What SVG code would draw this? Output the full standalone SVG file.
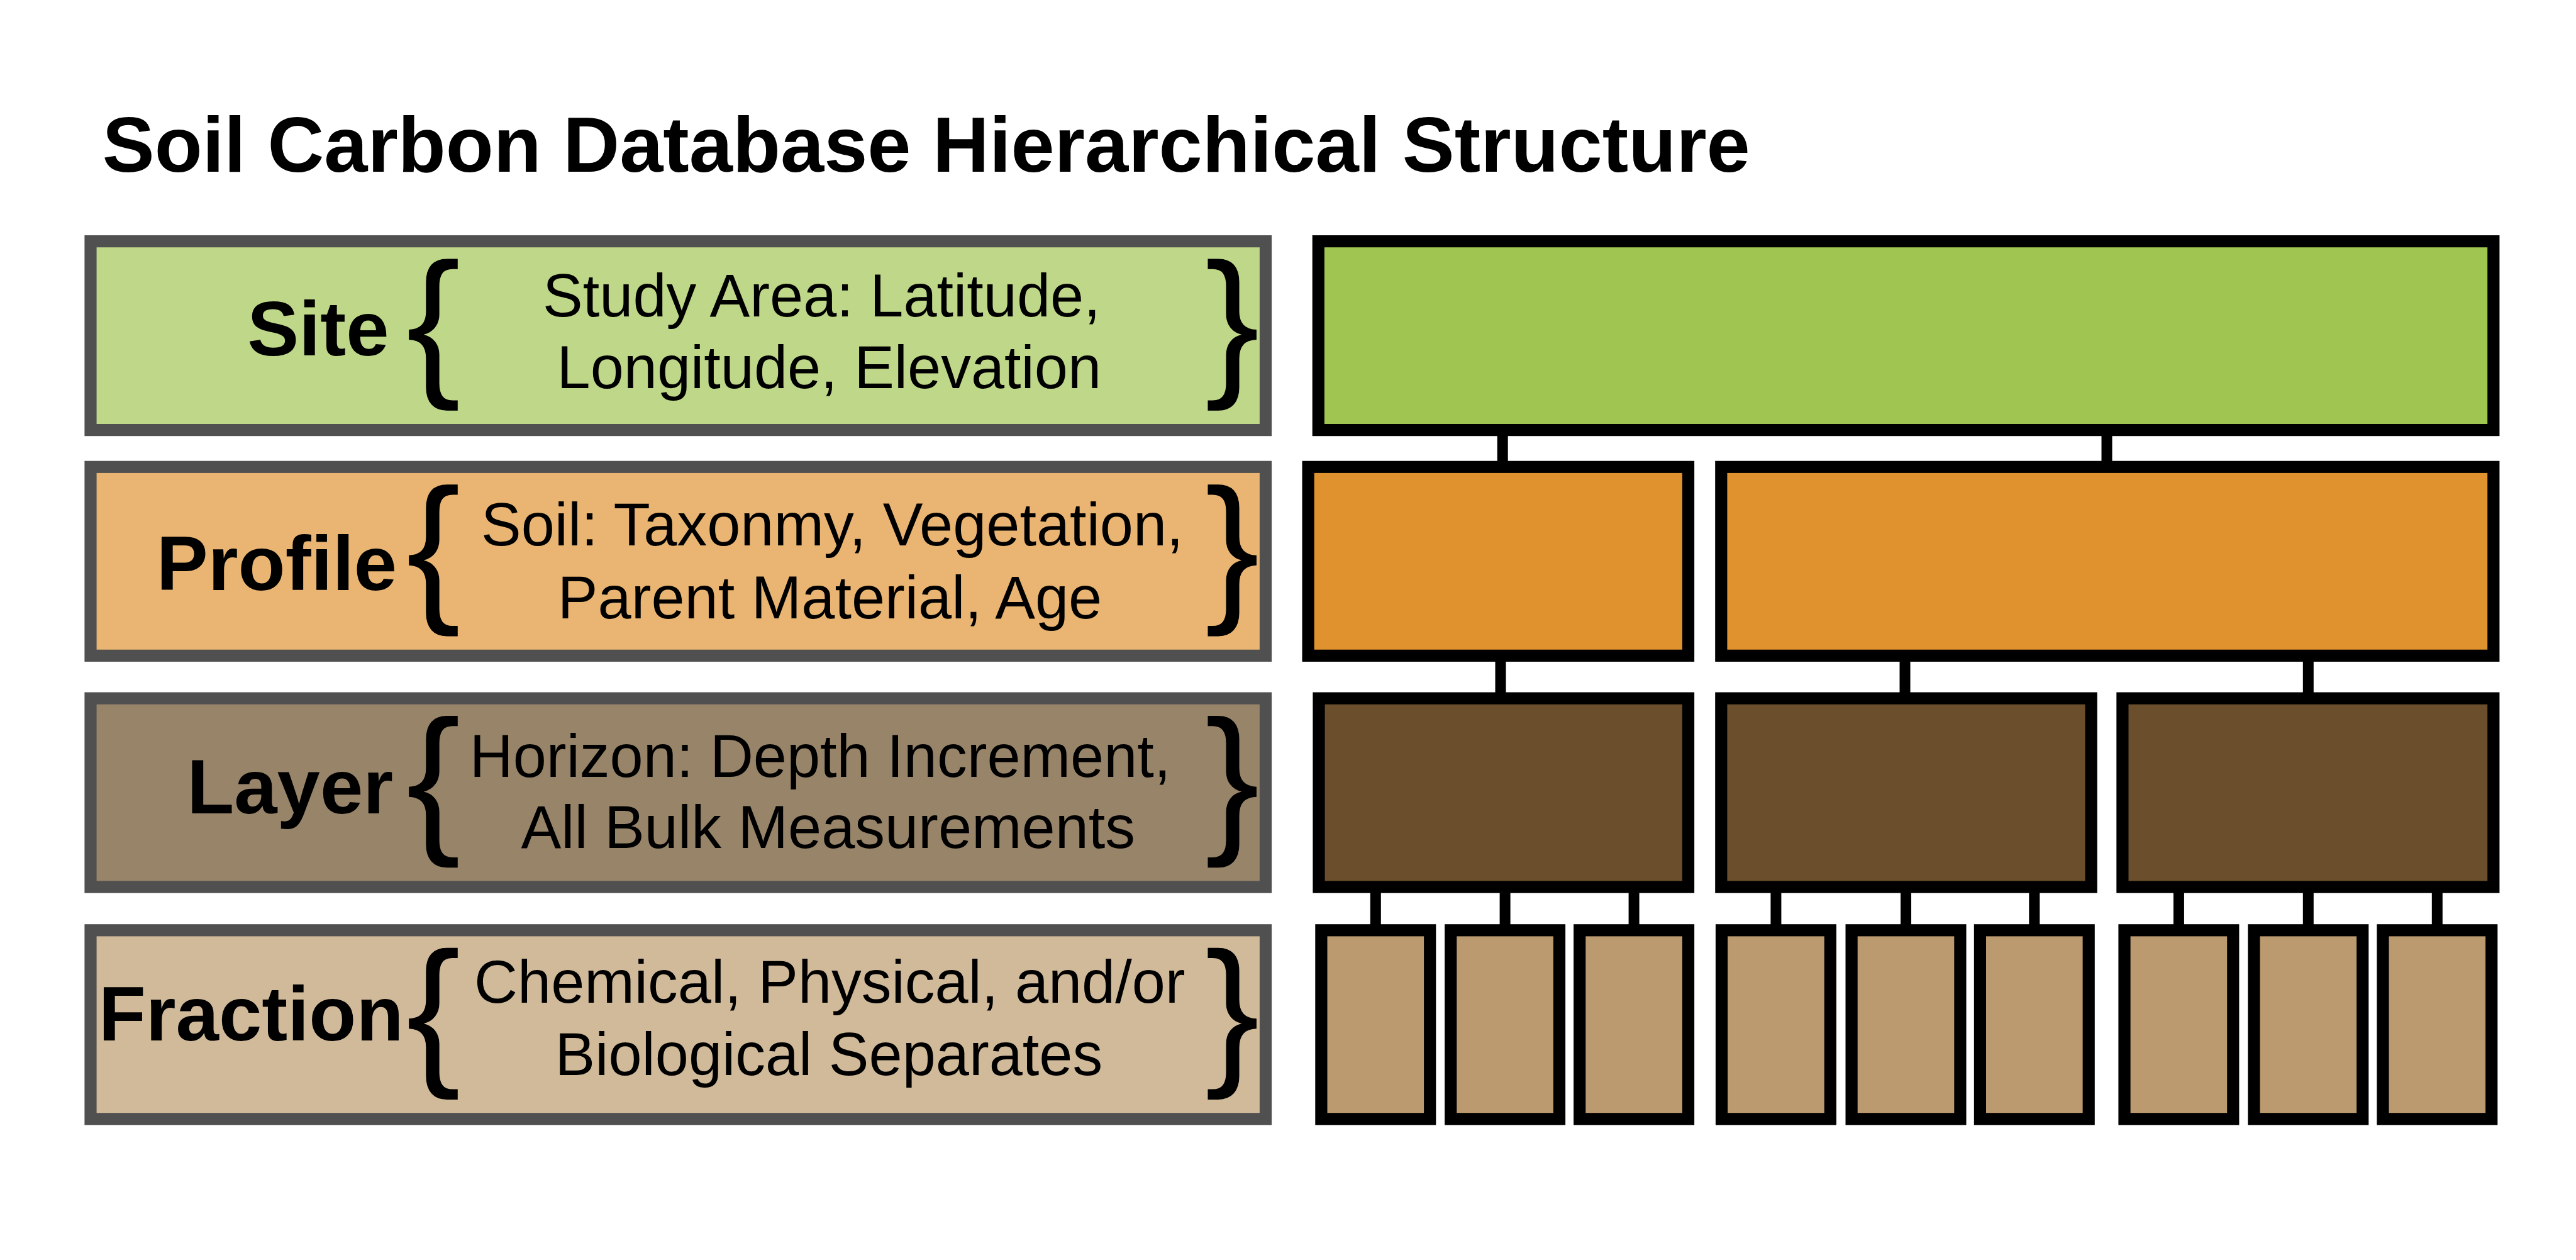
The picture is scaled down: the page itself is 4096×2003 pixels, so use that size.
<svg xmlns="http://www.w3.org/2000/svg" width="4096" height="2003" viewBox="0 0 4096 2003">
<style>
.lbox{stroke:#505050;stroke-width:19.2}
.nbox{stroke:#000;stroke-width:19.2}
.title{font-family:"Liberation Sans",Arial,sans-serif;font-weight:bold;font-size:124.4px;fill:#000}
.lab{font-family:"Liberation Sans",Arial,sans-serif;font-weight:bold;font-size:122.9px;fill:#000}
.desc{font-family:"Liberation Sans",Arial,sans-serif;font-size:95.5px;fill:#000;text-anchor:middle}
.br{font-family:"Liberation Sans",Arial,sans-serif;font-size:258.8px;fill:#000}
.conn{stroke:#000;stroke-width:17;fill:none}
.site{fill:#a0c550}.prof{fill:#e0922f}.layr{fill:#6b4e2c}.frac{fill:#bb9a6f}
</style>
<rect width="4096" height="2003" fill="#fff"/>
<text class="title" x="162.8" y="272.6">Soil Carbon Database Hierarchical Structure</text>

<g id="legend-site">
<rect class="lbox" x="144" y="383.6" width="1868.5" height="300" fill="#bfd788"/>
<text class="lab" x="393.2" y="564.5">Site</text>
<text class="br" x="645.9" y="599">{</text>
<text class="br" x="1916.2" y="599">}</text>
<text class="desc" x="1306.4" y="503">Study Area: Latitude,</text>
<text class="desc" x="1318.3" y="616.7">Longitude, Elevation</text>
</g>
<g id="legend-profile">
<rect class="lbox" x="144" y="742.3" width="1868.5" height="300" fill="#eab572"/>
<text class="lab" x="248.8" y="937.7">Profile</text>
<text class="br" x="645.9" y="957.7">{</text>
<text class="br" x="1916.2" y="957.7">}</text>
<text class="desc" x="1323.3" y="867.3">Soil: Taxonmy, Vegetation,</text>
<text class="desc" x="1319.5" y="982.5">Parent Material, Age</text>
</g>
<g id="legend-layer">
<rect class="lbox" x="144" y="1110.1" width="1868.5" height="300" fill="#978469"/>
<text class="lab" x="297.2" y="1293.3">Layer</text>
<text class="br" x="645.9" y="1325.6">{</text>
<text class="br" x="1916.2" y="1325.6">}</text>
<text class="desc" x="1304.1" y="1234.9">Horizon: Depth Increment,</text>
<text class="desc" x="1316.8" y="1347.8">All Bulk Measurements</text>
</g>
<g id="legend-fraction">
<rect class="lbox" x="144" y="1478.8" width="1868.5" height="300" fill="#d1ba9a"/>
<text class="lab" x="156.7" y="1654.3">Fraction</text>
<text class="br" x="645.9" y="1694.2">{</text>
<text class="br" x="1916.2" y="1694.2">}</text>
<text class="desc" x="1319.4" y="1593.6">Chemical, Physical, and/or</text>
<text class="desc" x="1317.9" y="1708.8">Biological Separates</text>
</g>

<g id="connectors">
<line class="conn" x1="2389.2" y1="683.9" x2="2389.2" y2="742.3"/>
<line class="conn" x1="3350" y1="683.9" x2="3350" y2="742.3"/>
<line class="conn" x1="2386" y1="1042.3" x2="2386" y2="1110.1"/>
<line class="conn" x1="3029" y1="1042.3" x2="3029" y2="1110.1"/>
<line class="conn" x1="3670.3" y1="1042.3" x2="3670.3" y2="1110.1"/>
<line class="conn" x1="2187.3" y1="1410.1" x2="2187.3" y2="1478.8"/>
<line class="conn" x1="2393.1" y1="1410.1" x2="2393.1" y2="1478.8"/>
<line class="conn" x1="2598.1" y1="1410.1" x2="2598.1" y2="1478.8"/>
<line class="conn" x1="2823.9" y1="1410.1" x2="2823.9" y2="1478.8"/>
<line class="conn" x1="3030.5" y1="1410.1" x2="3030.5" y2="1478.8"/>
<line class="conn" x1="3234.8" y1="1410.1" x2="3234.8" y2="1478.8"/>
<line class="conn" x1="3464.4" y1="1410.1" x2="3464.4" y2="1478.8"/>
<line class="conn" x1="3670.3" y1="1410.1" x2="3670.3" y2="1478.8"/>
<line class="conn" x1="3875.3" y1="1410.1" x2="3875.3" y2="1478.8"/>
</g>

<g id="site"><rect class="nbox site" x="2096.3" y="383.6" width="1868.5" height="300"/></g>
<g id="profile-1"><rect class="nbox prof" x="2080.1" y="742.3" width="604.4" height="300"/></g>
<g id="profile-2"><rect class="nbox prof" x="2736.8" y="742.3" width="1228" height="300"/></g>
<g id="layer-1"><rect class="nbox layr" x="2097" y="1110.1" width="587.5" height="300"/></g>
<g id="layer-2"><rect class="nbox layr" x="2736.8" y="1110.1" width="588.3" height="300"/></g>
<g id="layer-3"><rect class="nbox layr" x="3374.9" y="1110.1" width="589.9" height="300"/></g>
<g id="fraction-1"><rect class="nbox frac" x="2100.9" y="1478.8" width="172.8" height="300"/></g>
<g id="fraction-2"><rect class="nbox frac" x="2306.7" y="1478.8" width="172.8" height="300"/></g>
<g id="fraction-3"><rect class="nbox frac" x="2511.7" y="1478.8" width="172.8" height="300"/></g>
<g id="fraction-4"><rect class="nbox frac" x="2737.5" y="1478.8" width="172.8" height="300"/></g>
<g id="fraction-5"><rect class="nbox frac" x="2944.1" y="1478.8" width="172.8" height="300"/></g>
<g id="fraction-6"><rect class="nbox frac" x="3148.4" y="1478.8" width="172.8" height="300"/></g>
<g id="fraction-7"><rect class="nbox frac" x="3378" y="1478.8" width="172.8" height="300"/></g>
<g id="fraction-8"><rect class="nbox frac" x="3583.9" y="1478.8" width="172.8" height="300"/></g>
<g id="fraction-9"><rect class="nbox frac" x="3788.9" y="1478.8" width="172.8" height="300"/></g>
</svg>
